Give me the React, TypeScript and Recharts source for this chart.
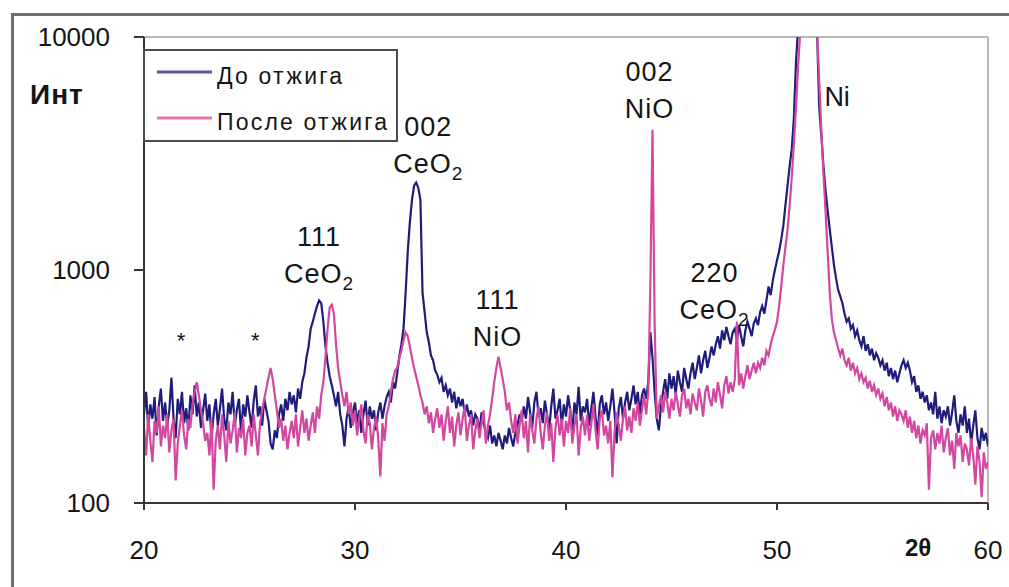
import { LineChart, Line, XAxis, YAxis, ReferenceLine, ReferenceDot } from "recharts"

// scan grid: 2θ from 20 to 60 in 0.1° steps
const THETA_START = 20
const THETA_STEP = 0.1

// intensity before annealing, one row per degree
const beforeAnneal = [
  240, 300, 210, 265, 230, 285, 195, 260, 310, 225,
  270, 215, 250, 345, 230, 190, 280, 240, 300, 220,
  255, 205, 290, 240, 320, 235, 270, 210, 250, 295,
  225, 265, 190, 240, 280, 215, 255, 310, 230, 205,
  270, 240, 300, 215, 250, 280, 200, 265, 235, 290,
  245, 210, 275, 320, 235, 260, 215, 280, 250, 225,
  180, 170, 205, 190, 240, 265, 225, 280, 250, 300,
  265, 290, 245, 310, 280, 330, 360, 420, 470, 560,
  600, 650, 700, 740, 720, 600, 470, 400, 350, 320,
  290, 260, 300, 240, 215, 175, 230, 260, 210, 245,
  270, 220, 250, 200, 240, 275, 215, 260, 230, 250,
  205, 245, 270, 230, 260, 285, 300, 270, 330, 310,
  360, 424, 480, 560, 800, 1200, 1600, 2000, 2300, 2373,
  2250, 2000, 800, 660, 540, 490, 430, 410, 370, 355,
  330, 345, 300, 320, 290, 310, 270, 300, 255, 285,
  260, 280, 240, 265, 235, 250, 215, 240, 230, 205,
  245, 220, 200, 190, 215, 180, 195, 175, 200, 185,
  170, 195, 180, 210, 190, 175, 200, 215, 240, 225,
  260, 230, 285, 245, 210, 270, 300, 235, 255, 220,
  275, 240, 205, 260, 310, 230, 250, 280, 215, 265,
  235, 290, 250, 200, 270, 240, 315, 225, 260, 245,
  280, 215, 255, 300, 235, 195, 265, 290, 240, 270,
  225, 260, 310, 245, 180, 255, 285, 230, 270, 300,
  250, 280, 320, 265, 300, 240, 290, 310, 280, 330,
  540, 420, 300, 230, 205, 260, 300, 340, 280, 360,
  310, 350, 290, 370, 330, 300, 380, 340, 310, 360,
  400, 340, 380, 430, 360, 410, 450, 380, 420, 470,
  430, 480, 520, 460, 550, 500, 570, 520, 480, 540,
  560, 500, 580, 520, 470, 550, 600, 560, 520, 590,
  620, 580, 660, 700, 650, 740, 850, 780, 900, 1000,
  1100, 1200, 1350, 1550, 1900, 2300, 2800, 3300, 4500, 7800,
  11000, 14000, 17000, 20000, 22000, 20000, 17000, 14000, 12000, 10500,
  5000, 3800, 2800, 2200, 1800, 1494, 1250, 1050, 920, 820,
  770, 720, 650, 600, 620, 560, 580, 520, 550, 500,
  470, 520, 450, 480, 430, 460, 410, 440, 420, 390,
  410, 370, 400, 350, 380, 340, 370, 330, 360, 390,
  410, 380, 400, 370, 330, 350, 300, 320, 280, 300,
  270, 290, 250, 270, 240, 300, 230, 260, 220, 250,
  235, 260, 215, 245, 290, 225, 200, 240, 215, 260,
  200, 230, 180, 215, 250, 190, 170, 210, 185, 200,
  175,
]

// intensity after annealing
const afterAnneal = [
  210, 160, 240, 185, 150, 225, 200, 260, 175, 215,
  190, 240, 165, 205, 230, 125, 180, 215, 250, 195,
  170, 230, 210, 265, 300, 330, 290, 250, 220, 185,
  200, 160, 230, 114, 185, 215, 170, 240, 195, 150,
  225, 180, 205, 245, 165, 210, 190, 230, 160, 200,
  215, 175, 240, 195, 160, 220, 250, 280, 310, 345,
  380, 340, 290, 250, 210, 230, 185, 215, 170, 200,
  225, 190, 240, 175, 210, 250, 200, 230, 185, 215,
  245, 200, 260, 230, 290, 330, 420, 560, 690, 710,
  650, 480, 380, 330, 290, 260, 300, 240, 270, 215,
  250, 195, 230, 265, 205, 180, 240, 220, 170, 210,
  235, 190, 130, 220, 185, 240, 260, 300, 340, 370,
  380, 420, 450, 500, 540, 520, 470, 420, 380, 348,
  320, 290, 270, 240, 260, 220, 245, 200, 230, 255,
  210, 240, 185, 225, 260, 200, 235, 175, 215, 245,
  195, 230, 260, 185, 215, 240, 170, 205, 230, 190,
  220, 250, 180, 215, 240, 280, 330, 380, 424, 380,
  340, 300, 250, 270, 225, 200, 240, 180, 215, 250,
  190, 225, 165, 240, 205, 180, 230, 260, 200, 170,
  215, 245, 185, 220, 150, 210, 240, 195, 230, 175,
  225, 200, 255, 180, 215, 240, 160, 210, 235, 195,
  240, 185, 220, 265, 205, 170, 230, 250, 195, 215,
  180, 225, 129, 200, 245, 215, 185, 230, 260, 205,
  235, 200, 255, 225, 270, 215, 250, 290, 240, 300,
  900, 4000, 600, 230, 260, 290, 245, 300, 270, 230,
  280, 250, 300, 265, 235, 290, 310, 255, 280, 240,
  295, 270, 250, 310, 275, 235, 300, 320, 280, 260,
  310, 270, 330, 290, 255, 320, 350, 295, 330, 300,
  340, 600, 320, 360, 310, 350, 390, 340, 370, 400,
  360, 400, 380, 420, 390, 450, 430, 480, 520, 555,
  600, 700, 850, 1050, 1250, 1494, 1900, 2500, 3500, 5000,
  7500, 10500, 13000, 16000, 19000, 21000, 19000, 15000, 12000, 10500,
  6500, 4000, 2600, 1800, 1200, 800, 614, 540, 500, 460,
  430, 460, 410, 390, 420, 370, 400, 360, 380, 340,
  360, 330, 345, 310, 335, 300, 320, 290, 310, 280,
  295, 260, 285, 250, 270, 235, 260, 225, 250, 240,
  225, 250, 210, 235, 200, 225, 190, 215, 180, 205,
  195, 220, 114, 190, 205, 170, 200, 180, 215, 165,
  190, 210, 160, 185, 140, 200, 175, 195, 150, 180,
  170, 145, 190, 160, 120, 175, 150, 106, 165, 140,
  150,
]

const seriesNames = ["До отжига", "После отжига"]
const seriesKeys = ["before", "after"]
const seriesColors = ["#1f1c7c", "#d2479f"]

const xTicks = [20, 30, 40, 50, 60]
const yTicks = [100, 1000, 10000]

// peak labels: position of first text line (2θ, intensity)
const peakLabels = [
  { x: 28.3, y: 1262, hkl: "111", phase: "CeO", sub: "2" },
  { x: 33.47, y: 3752, hkl: "002", phase: "CeO", sub: "2" },
  { x: 36.75, y: 683, hkl: "111", phase: "NiO", sub: "" },
  { x: 43.96, y: 6471, hkl: "002", phase: "NiO", sub: "" },
  { x: 47.04, y: 892, hkl: "220", phase: "CeO", sub: "2" },
]
const niLabel = { x: 52.85, y: 5050, text: "Ni" }
const starPositions = [21.76, 25.27]
const starLevel = 464

const FONT = "'Liberation Sans', Arial, Helvetica, sans-serif"

const data = beforeAnneal.map((v, i) => ({
  theta: +(THETA_START + i * THETA_STEP).toFixed(1),
  before: v,
  after: afterAnneal[i],
}))

const textStyle = { fontFamily: FONT, fill: "#151515" }

function peakShape(hkl: string, phase: string, sub: string) {
  return (props: any) => (
    <g>
      <text x={props.cx} y={props.cy} textAnchor="middle" fontSize={27} letterSpacing={1} style={textStyle}>
        {hkl}
      </text>
      <text x={props.cx} y={props.cy + 37} textAnchor="middle" fontSize={27} letterSpacing={1} style={textStyle}>
        <tspan>{phase}</tspan>
        {sub ? <tspan dy={7} fontSize={19}>{sub}</tspan> : null}
      </text>
    </g>
  )
}

function textShape(label: string, size: number, anchor: "start" | "middle") {
  return (props: any) => (
    <text x={props.cx} y={props.cy} textAnchor={anchor} fontSize={size} style={textStyle}>
      {label}
    </text>
  )
}

export default function App() {
  return (
    <div
      style={{
        position: "absolute",
        left: 0,
        top: 0,
        width: 1009,
        height: 587,
        overflow: "hidden",
        background: "#fff",
      }}
    >
      <LineChart width={1009} height={587} data={data} margin={{ top: 37, right: 21, bottom: 0, left: 0 }}>
        <XAxis
          dataKey="theta"
          type="number"
          domain={[20, 60]}
          ticks={xTicks}
          allowDataOverflow
          height={84}
          tickSize={7}
          tickMargin={31}
          stroke="#353535"
          strokeWidth={2}
          tick={{ fill: "#151515", fontSize: 26, fontFamily: FONT }}
        />
        <YAxis
          scale="log"
          domain={[100, 10000]}
          ticks={yTicks}
          allowDataOverflow
          width={144}
          tickSize={10}
          tickMargin={24}
          stroke="#353535"
          strokeWidth={2}
          tick={{ fill: "#151515", fontSize: 26, fontFamily: FONT }}
        />
        <ReferenceLine y={10000} stroke="#b9b9b9" strokeWidth={2} />
        <ReferenceLine x={60} stroke="#b9b9b9" strokeWidth={2} />
        {seriesKeys.map((k, i) => (
          <Line
            key={k}
            dataKey={k}
            name={seriesNames[i]}
            stroke={seriesColors[i]}
            strokeWidth={2.2}
            strokeLinejoin="miter"
            dot={false}
            type="linear"
            isAnimationActive={false}
          />
        ))}
        {peakLabels.map((p) => (
          <ReferenceDot
            key={p.x}
            x={p.x}
            y={p.y}
            r={0}
            ifOverflow="visible"
            shape={peakShape(p.hkl, p.phase, p.sub)}
          />
        ))}
        <ReferenceDot
          x={niLabel.x}
          y={niLabel.y}
          r={0}
          ifOverflow="visible"
          shape={textShape(niLabel.text, 27, "middle")}
        />
        {starPositions.map((s) => (
          <ReferenceDot key={s} x={s} y={starLevel} r={0} ifOverflow="visible" shape={textShape("*", 22, "middle")} />
        ))}
      </LineChart>

      <svg
        width={1009}
        height={587}
        style={{ position: "absolute", left: 0, top: 0, pointerEvents: "none" }}
      >
        {/* outer frame */}
        <path d="M12.5 590 V14.5 H1012" fill="none" stroke="#6e6e6e" strokeWidth={3} />
        {/* legend */}
        <rect x={144} y={50} width={253} height={91} fill="#fff" stroke="#4d4d4d" strokeWidth={2} />
        {seriesNames.map((n, i) => (
          <g key={n}>
            <line x1={157} x2={212} y1={72 + i * 46} y2={72 + i * 46} stroke={seriesColors[i]} strokeWidth={3} opacity={0.75} />
            <text x={217} y={84 + i * 46} fontSize={23} letterSpacing={2.2} style={textStyle}>
              {n}
            </text>
          </g>
        ))}
        <text x={30} y={104} fontSize={28} fontWeight="bold" letterSpacing={1} style={textStyle}>
          Инт
        </text>
        <text x={905} y={556} fontSize={24} fontWeight="bold" style={textStyle}>
          2θ
        </text>
      </svg>
    </div>
  )
}
